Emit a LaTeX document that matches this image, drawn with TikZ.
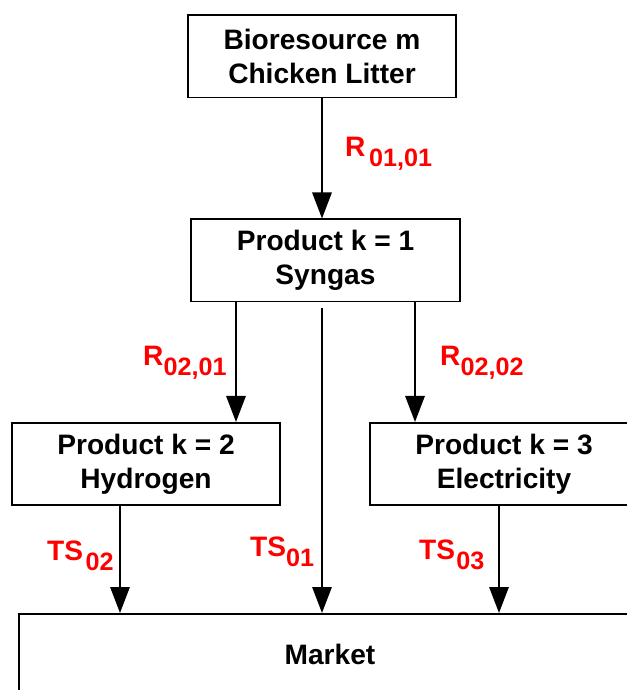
\documentclass[tikz,border=0pt]{standalone}
\usepackage{fontspec}
\setmainfont{Liberation Sans}
\usetikzlibrary{arrows.meta,positioning,calc}

\newcommand{\flowsub}[3][0pt]{#2\hspace{#1}\raisebox{-8pt}{\fontsize{21.5}{21.5}\selectfont #3}}

\begin{document}
\begin{tikzpicture}[x=0.03cm, y=0.03cm,
    box/.style={draw, line width=1.7pt, minimum width=8.04cm, minimum height=2.46cm, align=center, inner sep=0pt, font=\fontsize{24}{29}\selectfont\bfseries},
    flow/.style={line width=1.7pt, -{Triangle[width=0.58cm,length=0.78cm]}},
    lab/.style={anchor=base west, inner sep=0pt, text=red, font=\fontsize{24}{29}\selectfont\bfseries}]
    \useasboundingbox (0,0) rectangle (627,690);
    % boxes
    \node[box] (bio) at (322,633.5) {Bioresource m\\Chicken Litter};
    \node[box] (syn) at (325.5,429.5) {Product k = 1\\Syngas};
    \node[box] (hyd) at (146,226) {Product k = 2\\Hydrogen};
    \node[box] (ele) at (504,226) {Product k = 3\\Electricity};
    \node[box, minimum width=18.66cm, minimum height=2.4cm] (mkt) at (330,36) {Market};
    % flows
    \draw[flow] (bio.south) -- (bio.south |- syn.north);
    \draw[flow] ([xshift=-2.685cm]syn.south) coordinate (s1) -- (s1 |- hyd.north);
    \draw[flow] ([xshift=2.685cm]syn.south) coordinate (s2) -- (s2 |- ele.north);
    \path (bio.south |- syn.south) ++(0,-6) coordinate (s0);
    \draw[flow] (s0) -- (s0 |- mkt.north);
    \draw[flow] ([xshift=-0.78cm]hyd.south) coordinate (h0) -- (h0 |- mkt.north);
    \draw[flow] ([xshift=-0.15cm]ele.south) coordinate (e0) -- (e0 |- mkt.north);
    % labels
    \node[lab] (r0101) at (345,533) {\flowsub[3pt]{R}{01,01}};
    \node[lab] (r0201) at (143,324) {\flowsub{R}{02,01}};
    \node[lab] (r0202) at (440,324) {\flowsub{R}{02,02}};
    \node[lab] (ts02) at (47,129) {\flowsub[2pt]{TS}{02}};
    \node[lab] (ts01) at (250,133) {\flowsub{TS}{01}};
    \node[lab] (ts03) at (419,130) {\flowsub[1pt]{TS}{03}};
\end{tikzpicture}
\end{document}
